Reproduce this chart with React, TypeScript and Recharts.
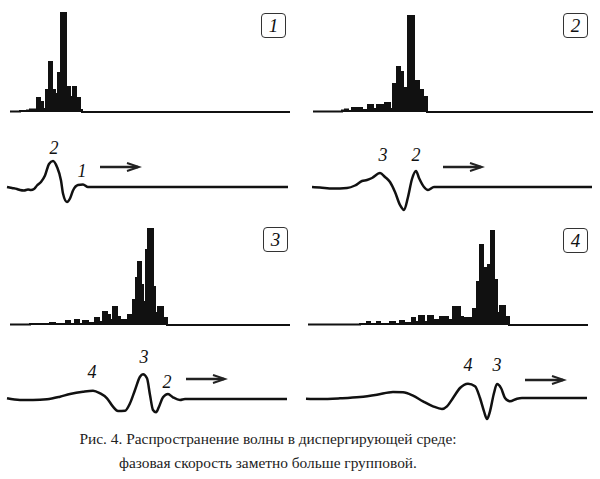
import React from 'react'
import { AreaChart, Area, LineChart, Line, XAxis, YAxis } from 'recharts'

// spectra: step start x (px inside the panel) and bar height
const spec1X = [10, 20, 27, 30, 36, 37, 40, 43, 46, 49, 52, 55, 58, 61, 66, 70, 73, 76, 80, 82, 290]
const spec1H = [0.5, 1, 1.5, 2.5, 1.5, 14, 10, 3, 22, 50, 22, 18, 39, 99, 25, 15, 25, 14, 2, 0, 0]

const spec2X = [13, 42, 45, 48, 52, 56, 58, 62, 68, 73, 77, 85, 90, 93, 97, 100, 103, 108, 114, 119, 123, 127, 293]
const spec2H = [0.5, 1.5, 2.5, 1, 4, 2, 4, 2, 7, 3, 7, 9, 3, 28, 45, 40, 24, 96, 31, 22, 15, 0, 0]

const spec3X = [10, 30, 50, 55, 66, 70, 75, 79, 83, 88, 95, 99, 103, 107, 110, 113, 117, 120, 128, 133, 136, 138, 141, 143, 146, 148, 153, 155, 158, 163, 167, 290]
const spec3H = [0.5, 1, 2, 1, 4, 1, 5, 1, 4, 2, 7, 3, 13, 10, 5, 18, 8, 5, 10, 25, 47, 63, 40, 23, 75, 96, 38, 12, 18, 7, 0, 0]

const spec4X = [8, 60, 67, 70, 77, 80, 90, 95, 100, 104, 112, 115, 119, 124, 128, 133, 140, 143, 148, 153, 160, 163, 173, 177, 180, 183, 186, 188, 191, 194, 197, 200, 205, 209, 288]
const spec4H = [0.5, 1, 3, 1, 3, 1, 3, 1, 4, 2, 7, 3, 9, 3, 9, 5, 8, 8, 5, 18, 8, 7, 16, 43, 80, 57, 22, 60, 94, 45, 12, 19, 8, 0, 0]

// waves: x inside the panel, displacement (up = positive)
const wave1X = [7, 12, 17, 20, 24, 28, 31, 34, 37, 41, 45, 49, 53, 57, 61, 63, 67, 70, 73, 78, 83, 88, 288]
const wave1Y = [0, -1, -2, -3, -3.5, -2.5, -3, -2, 1.5, 5, 11.5, 23, 26, 20, 6.5, -6.5, -15, -11.5, -3.5, 2, 2.5, 0, 0]

const wave2X = [12, 20, 33, 47, 55, 62, 67, 72, 80, 85, 90, 95, 100, 104, 108, 112, 116, 119, 124, 128, 134, 292]
const wave2Y = [0, -0.5, -1.5, -1, 1.5, 6, 7, 9, 14, 10, 5, -5, -18, -23, -10, 8, 16, 9, 0, -3, 0, 0]

const wave3X = [7, 20, 33, 47, 60, 70, 83, 93, 100, 107, 113, 118, 125, 130, 135, 140, 143, 147, 150, 153, 156, 159, 163, 168, 173, 180, 185, 287]
const wave3Y = [0.7, -1, -1, -0.3, 2.3, 5, 7.3, 8.3, 5.7, 0.7, -7.7, -12, -11.7, -4.3, 9, 22.3, 24.7, 20.7, 4, -11, -13.3, -7.7, 1.7, 5, 1.7, -1, 0, 0]

const wave4X = [6, 20, 40, 60, 77, 93, 103, 113, 123, 133, 142, 147, 153, 160, 168, 175, 180, 184, 187, 190, 194, 197, 201, 205, 210, 217, 222, 287]
const wave4Y = [-0.7, -1, -0.3, 1, 3.3, 6, 5.7, 2.3, -3.3, -8.3, -11, -8.3, 0, 10, 14.3, 11.7, 0, -13.3, -21, -13.3, 5, 14, 10, 0, -3.3, -0.7, 0, 0]

const caption1 = 'Рис. 4. Распространение волны в диспергирующей среде:'
const caption2 = 'фазовая скорость заметно больше групповой.'

const serif = 'Liberation Serif, DejaVu Serif, Times New Roman, serif'
const ink = '#111'

const zip = (xs: number[], ys: number[]) => xs.map((x, i) => ({ x, v: ys[i] }))

function Spectrum({ xs, hs, left, base }: { xs: number[]; hs: number[]; left: number; base: number }) {
  return (
    <div style={{ position: 'absolute', left, top: base - 102 }}>
      <AreaChart width={300} height={104} data={zip(xs, hs)} margin={{ top: 2, right: 0, bottom: 2, left: 0 }}>
        <XAxis dataKey="x" type="number" domain={[0, 300]} hide />
        <YAxis type="number" domain={[0, 100]} hide />
        <Area
          type="stepAfter"
          dataKey="v"
          stroke={ink}
          strokeWidth={2}
          fill={ink}
          fillOpacity={1}
          isAnimationActive={false}
        />
      </AreaChart>
    </div>
  )
}

function Wave({ xs, ys, left, base }: { xs: number[]; ys: number[]; left: number; base: number }) {
  return (
    <div style={{ position: 'absolute', left, top: base - 30 }}>
      <LineChart width={300} height={60} data={zip(xs, ys)} margin={{ top: 0, right: 0, bottom: 0, left: 0 }}>
        <XAxis dataKey="x" type="number" domain={[0, 300]} hide />
        <YAxis type="number" domain={[-30, 30]} hide />
        <Line
          type="monotone"
          dataKey="v"
          stroke={ink}
          strokeWidth={2.5}
          dot={false}
          isAnimationActive={false}
        />
      </LineChart>
    </div>
  )
}

function Label({ text, x, y }: { text: string; x: number; y: number }) {
  return (
    <div
      style={{
        position: 'absolute',
        left: x - 10,
        top: y - 11,
        width: 20,
        textAlign: 'center',
        fontFamily: serif,
        fontStyle: 'italic',
        fontSize: 18,
        lineHeight: '22px',
        color: ink,
      }}
    >
      {text}
    </div>
  )
}

function Arrow({ x, y }: { x: number; y: number }) {
  return (
    <svg style={{ position: 'absolute', left: x, top: y - 6 }} width={42} height={12}>
      <line x1={0} y1={6} x2={38} y2={6} stroke="#222" strokeWidth={2.5} />
      <polyline points="27,2 39,6 27,10" fill="none" stroke="#222" strokeWidth={2} />
    </svg>
  )
}

function Box({ text, x, y }: { text: string; x: number; y: number }) {
  return (
    <div
      style={{
        position: 'absolute',
        left: x,
        top: y,
        width: 23,
        height: 23,
        border: '1.5px solid #333',
        borderRadius: 4,
        textAlign: 'center',
        fontFamily: serif,
        fontStyle: 'italic',
        fontSize: 19,
        lineHeight: '23px',
        color: ink,
      }}
    >
      {text}
    </div>
  )
}

export default function App() {
  return (
    <div style={{ position: 'absolute', left: 0, top: 0, width: 600, height: 479, background: '#fff', overflow: 'hidden' }}>
      <Spectrum xs={spec1X} hs={spec1H} left={0} base={112} />
      <Spectrum xs={spec2X} hs={spec2H} left={300} base={112} />
      <Spectrum xs={spec3X} hs={spec3H} left={0} base={325} />
      <Spectrum xs={spec4X} hs={spec4H} left={300} base={325} />

      <Wave xs={wave1X} ys={wave1Y} left={0} base={186.5} />
      <Wave xs={wave2X} ys={wave2Y} left={300} base={186.7} />
      <Wave xs={wave3X} ys={wave3Y} left={0} base={399} />
      <Wave xs={wave4X} ys={wave4Y} left={300} base={398.3} />

      <Box text="1" x={261} y={13} />
      <Box text="2" x={563} y={13} />
      <Box text="3" x={263} y={227} />
      <Box text="4" x={563} y={228} />

      <Label text="2" x={54} y={148} />
      <Label text="1" x={82} y={171} />
      <Label text="3" x={383} y={155} />
      <Label text="2" x={416} y={155} />
      <Label text="4" x={92} y={372} />
      <Label text="3" x={144} y={357} />
      <Label text="2" x={167} y={382} />
      <Label text="4" x={468} y={365} />
      <Label text="3" x={497} y={365} />

      <Arrow x={100} y={167} />
      <Arrow x={443} y={167} />
      <Arrow x={186} y={379} />
      <Arrow x={525} y={380} />

      <div
        style={{
          position: 'absolute',
          left: 0,
          top: 427,
          width: 536,
          textAlign: 'center',
          fontFamily: serif,
          fontSize: 15.4,
          lineHeight: '24px',
          color: '#222',
        }}
      >
        <div>{caption1}</div>
        <div>{caption2}</div>
      </div>
    </div>
  )
}
